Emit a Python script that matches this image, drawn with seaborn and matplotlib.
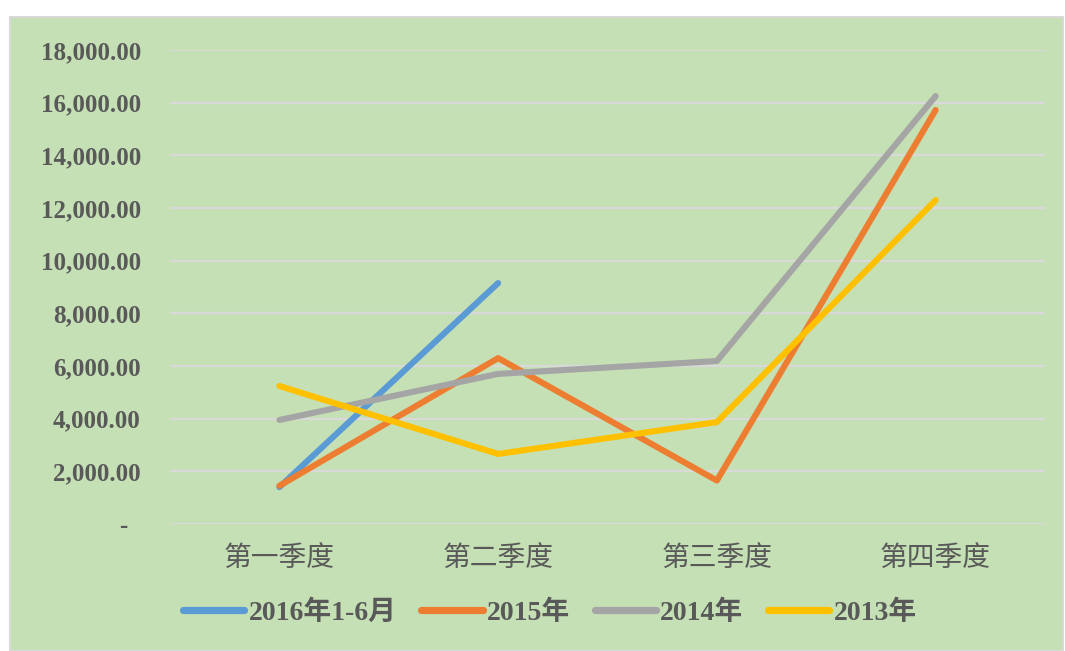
import matplotlib
matplotlib.use("Agg")
import matplotlib.pyplot as plt
import seaborn as sns
import pandas as pd
from matplotlib.patches import Rectangle
from matplotlib.ticker import FuncFormatter
from matplotlib.lines import Line2D

quarters = ["第一季度", "第二季度", "第三季度", "第四季度"]
series_names = ["2016年1-6月", "2015年", "2014年", "2013年"]
v2016 = [1400, 9150]
v2015 = [1450, 6300, 1650, 15720]
v2014 = [3950, 5700, 6190, 16250]
v2013 = [5240, 2660, 3870, 12300]
colors = ["#5B9BD5", "#ED7D31", "#A5A5A5", "#FFC000"]
yticks = [0, 2000, 4000, 6000, 8000, 10000, 12000, 14000, 16000, 18000]

rows = []
for name, vals in zip(series_names, [v2016, v2015, v2014, v2013]):
    for q, v in zip(quarters, vals):
        rows.append({"quarter": q, "value": v, "series": name})
df = pd.DataFrame(rows)

sns.set_theme(style="white")
plt.rcParams['font.family'] = ['Liberation Serif', 'Noto Sans CJK SC', 'DejaVu Sans']

W, H = 1065, 651
fig = plt.figure(figsize=(W / 100, H / 100), dpi=100, facecolor="white")
green = "#C5E0B4"
bg = Rectangle((10 / W, 0), (1053 / W), 1 - 17 / H, transform=fig.transFigure,
               facecolor=green, edgecolor="#D9D9D9", linewidth=1.5, zorder=-10)
fig.patches.append(bg)

ax = fig.add_axes([170 / W, 1 - 524 / H, 875 / W, (524 - 50) / H])
ax.set_facecolor("none")
ax.set_zorder(1)

sns.lineplot(data=df, x="quarter", y="value", hue="series", hue_order=series_names,
             palette=colors, linewidth=4.4, ax=ax, sort=False, legend=False,
             solid_capstyle="round", solid_joinstyle="round")

ax.set_xlim(-0.5, 3.5)
ax.set_ylim(0, 18000)
ax.set_yticks(yticks)
ax.yaxis.set_major_formatter(FuncFormatter(lambda v, p: "-  " if v == 0 else f"{v:,.2f}"))
ax.grid(axis="y", color="#D9D9D9", linewidth=1.6)
ax.set_axisbelow(True)
for s in ax.spines.values():
    s.set_visible(False)
ax.tick_params(axis="y", length=0, pad=21, labelsize=18, labelcolor="#595959")
ax.tick_params(axis="x", length=0, pad=14, labelsize=20, labelcolor="#595959")
for lab in ax.get_yticklabels():
    lab.set_fontweight("bold")
for lab in ax.get_xticklabels():
    lab.set_fontfamily(["Noto Sans CJK SC"])
ax.set_xlabel("")
ax.set_ylabel("")

handles = [Line2D([], [], color=c, linewidth=5.2, solid_capstyle="round") for c in colors]
leg = fig.legend(handles, series_names, loc="center", bbox_to_anchor=(550 / W, 1 - 613 / H),
                 ncol=4, frameon=False, handlelength=2.2, handletextpad=0.15, columnspacing=0.9,
                 prop={"family": ["Liberation Serif", "Noto Sans CJK SC"], "weight": "bold", "size": 20})
for t in leg.get_texts():
    t.set_color("#595959")

fig.savefig("out.png", dpi=100, facecolor="white")
